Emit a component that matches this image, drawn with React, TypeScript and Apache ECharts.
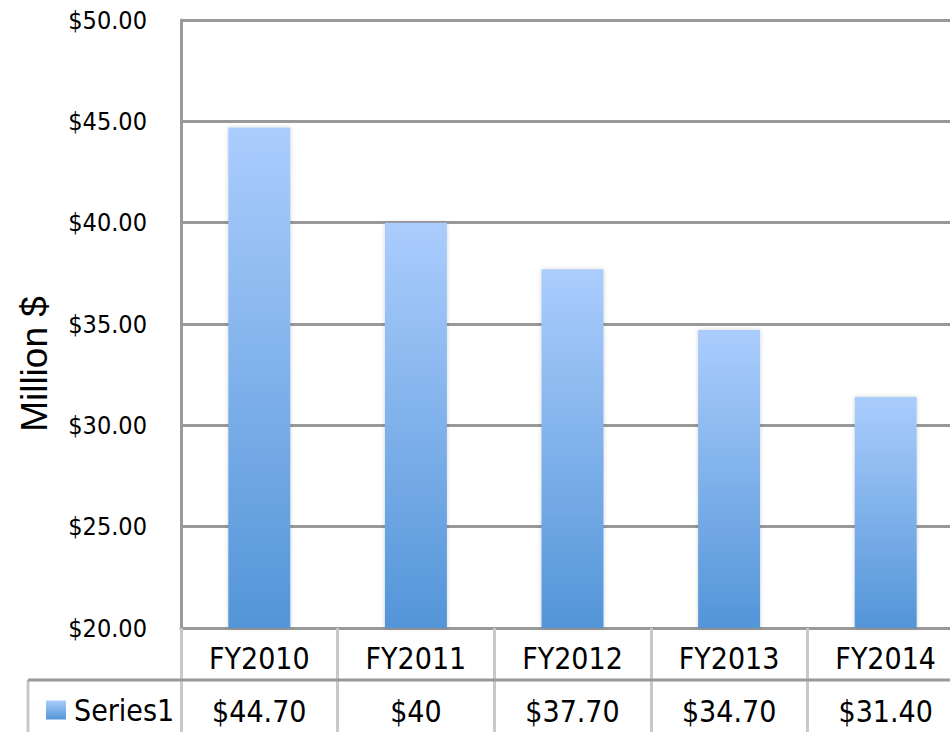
import React, { useEffect, useRef } from "react";
import * as echarts from "echarts";

const categories = ["FY2010", "FY2011", "FY2012", "FY2013", "FY2014"];
const values = [44.7, 40, 37.7, 34.7, 31.4];
const seriesName = "Series1";
const yAxisTitle = "Million $";
const yMin = 20;
const yMax = 50;
const yStep = 5;

const fmtValue = (v: number) => (Number.isInteger(v) ? `$${v}` : `$${v.toFixed(2)}`);

const FONT = "'DejaVu Sans Condensed', 'DejaVu Sans', sans-serif";

export default function App() {
  const ref = useRef<HTMLDivElement>(null);
  useEffect(() => {
    if (!ref.current) return;
    const chart = echarts.init(ref.current, null, { renderer: "svg" });
    const barColor = new echarts.graphic.LinearGradient(0, 0, 0, 1, [
      { offset: 0, color: "#abcdfd" },
      { offset: 1, color: "#5395d8" },
    ]);
    chart.setOption({
      animation: false,
      backgroundColor: "#ffffff",
      grid: { left: 181, top: 20, right: 0, height: 608, containLabel: false },
      legend: {
        show: true,
        left: 41,
        top: 690,
        itemWidth: 20,
        itemHeight: 19,
        icon: "rect",
        itemGap: 0,
        textStyle: { fontFamily: FONT, fontSize: 30, color: "#000", padding: [0, 0, 0, 3] },
        data: [seriesName],
      },
      xAxis: [
        {
          type: "category",
          data: categories,
          position: "bottom",
          axisLine: { show: true, lineStyle: { color: "#999999", width: 3 } },
          axisTick: {
            show: true,
            interval: 0,
            length: 110,
            lineStyle: { color: "#c8c8c8", width: 3 },
          },
          axisLabel: {
            interval: 0,
            margin: 15,
            fontFamily: FONT,
            fontSize: 30,
            color: "#000",
          },
        },
        {
          type: "category",
          data: values.map(fmtValue),
          position: "bottom",
          offset: 52,
          axisLine: { show: false },
          axisTick: { show: false },
          axisLabel: {
            interval: 0,
            margin: 16,
            fontFamily: FONT,
            fontSize: 30,
            color: "#000",
          },
        },
      ],
      yAxis: {
        type: "value",
        min: yMin,
        max: yMax,
        interval: yStep,
        axisLine: { show: true, lineStyle: { color: "#999999", width: 3 } },
        axisTick: { show: false },
        splitLine: { show: true, lineStyle: { color: "#999999", width: 3 } },
        axisLabel: {
          margin: 34,
          fontFamily: FONT,
          fontSize: 25,
          color: "#000",
          formatter: (v: number) => `$${v.toFixed(2)}`,
        },
      },
      graphic: [
        {
          type: "text",
          x: 34,
          y: 364,
          rotation: Math.PI / 2,
          style: {
            text: yAxisTitle,
            fontFamily: "'Liberation Sans', Arial, sans-serif",
            fontSize: 37,
            fill: "#000",
            textAlign: "center",
            textVerticalAlign: "middle",
          },
        },
        {
          type: "line",
          shape: { x1: 28, y1: 680, x2: 970, y2: 680 },
          style: { stroke: "#999999", lineWidth: 3 },
          z: 10,
        },
        {
          type: "line",
          shape: { x1: 28, y1: 680, x2: 28, y2: 740 },
          style: { stroke: "#c8c8c8", lineWidth: 3 },
          z: 9,
        },
      ],
      series: [
        {
          name: seriesName,
          type: "bar",
          data: values,
          barWidth: 62,
          itemStyle: {
            color: barColor,
            shadowColor: "rgba(0,0,0,0.18)",
            shadowBlur: 4,
          },
        },
      ],
    });
    return () => chart.dispose();
  }, []);
  return (
    <div style={{ position: "absolute", left: 0, top: 0, width: 950, height: 732, overflow: "hidden" }}>
      <div ref={ref} style={{ width: 964, height: 732 }} />
    </div>
  );
}
